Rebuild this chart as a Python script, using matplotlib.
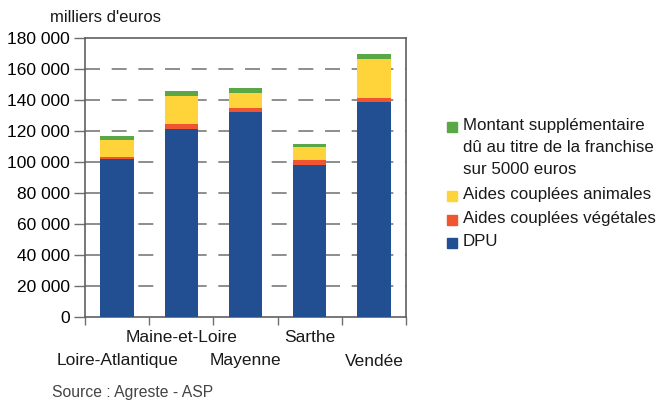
import numpy as np
import matplotlib.pyplot as plt
from matplotlib.patches import Rectangle
import matplotlib.ticker as ticker
import matplotlib.transforms as mtransforms

plt.rcParams.update({
    "font.family": ["Liberation Sans", "DejaVu Sans"],
    "font.size": 12,
    "text.color": "#1a1a1a",
})

# data (milliers d'euros)
departements = ["Loire-Atlantique", "Maine-et-Loire", "Mayenne", "Sarthe", "Vendée"]
dpu = [101.8, 121.2, 132.3, 97.9, 138.8]
vegetales = [1.2, 3.5, 2.6, 3.2, 2.6]
animales = [11.1, 18.0, 9.7, 8.4, 25.1]
franchise = [2.6, 3.2, 3.3, 2.0, 3.2]

series = [
    (dpu, "#224f91", "DPU"),
    (vegetales, "#ef5530", "Aides couplées végétales"),
    (animales, "#ffd43a", "Aides couplées animales"),
    (franchise, "#5aa845",
     "Montant supplémentaire\ndû au titre de la franchise\nsur 5000 euros"),
]

fig = plt.figure(figsize=(6.61, 4.01), dpi=100)
ax = fig.add_axes([0.1286, 0.2095, 0.4856, 0.6958])

x = np.arange(len(departements))
bottom = np.zeros(len(departements))
for vals, col, lab in series:
    v = np.array(vals) * 1000
    ax.bar(x, v, 0.52, bottom=bottom, color=col, zorder=3)
    bottom += v

ax.set_xlim(-0.5, len(departements) - 0.5)
ax.set_ylim(0, 180000)

# y axis
ax.set_yticks(np.arange(0, 180001, 20000))
ax.yaxis.set_major_formatter(ticker.FuncFormatter(
    lambda v, pos: f"{int(v):,}".replace(",", " ")))
ax.tick_params(axis="y", length=8, width=1, color="#707070", labelsize=12.5, pad=3)
for yv in range(20000, 180000, 20000):
    ax.axhline(yv, color="#7a7a7a", lw=1.2, ls=(0, (9, 7)), zorder=1)

# x axis: boundaries as ticks, names staggered on two rows
ax.set_xticks(np.arange(-0.5, len(departements)), labels=[])
ax.tick_params(axis="x", which="major", length=6, width=1, color="#707070")
trans = mtransforms.blended_transform_factory(ax.transData, fig.transFigure)
for i, d in enumerate(departements):
    yy = 361 if i % 2 == 0 else 338
    ax.text(i, 1 - yy / 401, d, transform=trans, ha="center", va="center",
            fontsize=12.5)

for s in ax.spines.values():
    s.set_color("#606060")
    s.set_linewidth(1.2)

fig.text(50 / 661, 1 - 17 / 401, "milliers d'euros", fontsize=12, va="center")
fig.text(52 / 661, 1 - 393 / 401, "Source : Agreste - ASP", fontsize=11.3,
         va="center", color="#444444")

# legend
leg_y = [127, 196, 220, 243]
for (vals, col, lab), yy in zip(series[::-1], leg_y):
    fig.patches.append(Rectangle((447 / 661, 1 - (yy + 5) / 401), 10 / 661, 10 / 401,
                                 transform=fig.transFigure, color=col))
    fig.text(463 / 661, 1 - (yy - 9) / 401, lab, fontsize=12.2, va="top",
             linespacing=1.6)

fig.savefig("out.png", dpi=100)
